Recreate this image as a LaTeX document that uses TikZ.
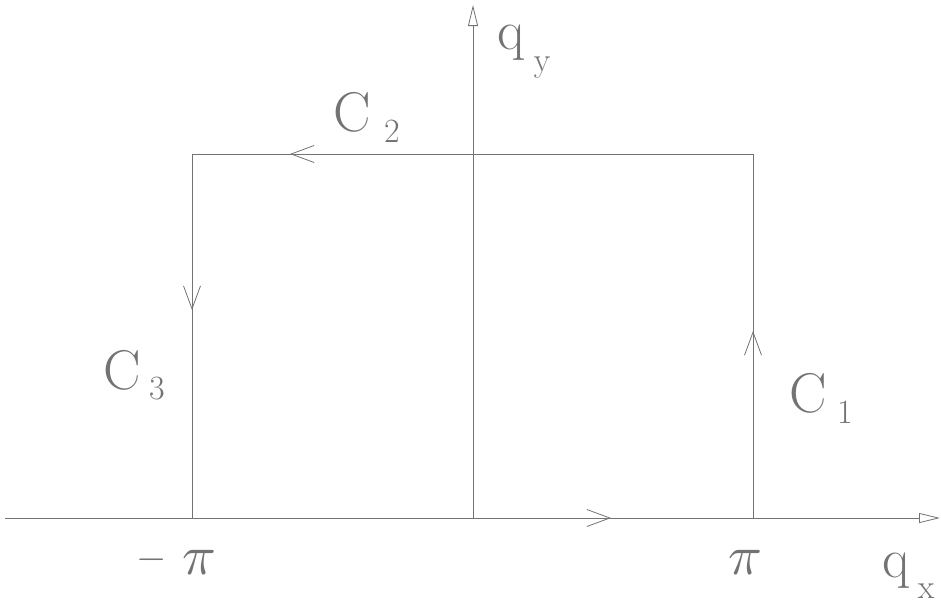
\documentclass[tikz,border=0pt]{standalone}
\usetikzlibrary{arrows.meta}
\begin{document}
\begin{tikzpicture}[x=1pt,y=-1pt,
  ln/.style={draw=black!55, line width=0.8pt},
  vhead/.style={-{Straight Barb[length=23pt,width=17pt,line width=0.8pt]}},
  axhead/.style={-{Triangle[open,length=21pt,width=10pt,line width=0.8pt]}},
  big/.style={inner sep=0pt, text=black!55, font=\fontsize{56}{60}\selectfont},
  small/.style={inner sep=0pt, text=black!55, font=\fontsize{34}{40}\selectfont},
  sym/.style={inner sep=0pt, text=black!55}]
\useasboundingbox (0,0) rectangle (941,605);
% key points
\coordinate (xs) at (5,518);
\coordinate (xe) at (940,518);
\coordinate (O) at (473,518);
\coordinate (ye) at (473,5);
\coordinate (BL) at (192,518);
\coordinate (BR) at (753,518);
\coordinate (TR) at (753,154);
\coordinate (TL) at (192,154);
\coordinate (ab) at (611,518);
\coordinate (ar) at (753,331);
\coordinate (at) at (290,154);
\coordinate (al) at (192,310);
% axes
\draw[ln, axhead] (xs) -- (xe);
\draw[ln, axhead] (O) -- (ye);
% contour
\draw[ln] (BR) -- (TR) -- (TL) -- (BL);
\draw[ln, vhead] (O) -- (ab);
\draw[ln, vhead] (BR) -- (ar);
\draw[ln, vhead] (TR) -- (at);
\draw[ln, vhead] (TL) -- (al);
% labels
\node[big] (c2) at (352,112) {C};
\node[small] (s2) at (392,131) {2};
\node[big] (c3) at (122,370) {C};
\node[small] (s3) at (157,389) {3};
\node[big] (c1) at (808,393) {C};
\node[small] (s1) at (845,412) {1};
\node[sym] (mn) at (152,560) {\scalebox{3.9}{$-$}};
\node[sym] (mp) at (199,562) {\scalebox{5.6}{$\pi$}};
\node[sym] (pp) at (745,562) {\scalebox{5.6}{$\pi$}};
\node[big] (qx) at (896,571) {q};
\node[small] (sx) at (926,591) {x};
\node[big] (qy) at (511,43) {q};
\node[small] (sy) at (542,68) {y};
\end{tikzpicture}
\end{document}
